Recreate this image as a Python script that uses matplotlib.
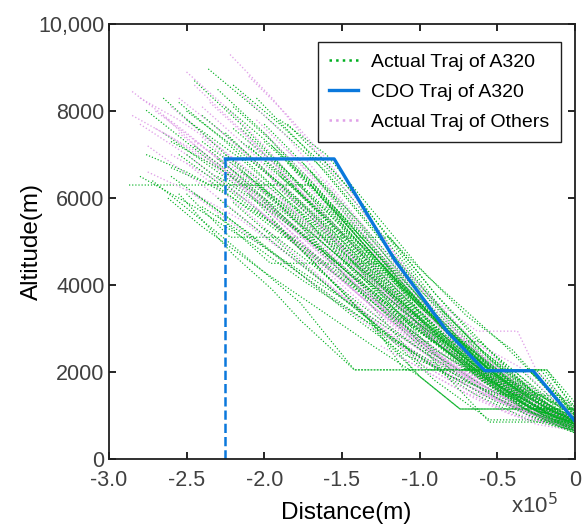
import matplotlib
matplotlib.use("Agg")
import matplotlib.pyplot as plt
from matplotlib.lines import Line2D

plt.rcParams['font.family'] = ['Liberation Sans', 'DejaVu Sans']

# distance in units of 1e5 m, altitude in m
a320_x = [
    [-2.36, -2.0, -1.6, -1.3, -1.0, -0.6, -0.2, 0],
    [-2.2, -1.9, -1.6, -1.25, -0.95, -0.6, -0.25, 0],
    [-1.9, -1.6, -1.3, -1.0, -0.7, -0.4, -0.15, 0],
    [-1.75, -1.5, -1.2, -0.9, -0.6, -0.3, 0],
    [-1.2, -0.95, -0.7, -0.45, -0.2, 0],
    [-2.05, -1.75, -1.45, -1.15, -0.85, -0.55, -0.25, 0],
    [-2.3, -2.0, -1.7, -1.4, -1.1, -0.8, -0.5, -0.2, 0],
    [-2.87, -1.68, -1.35, -1.0, -0.6, -0.25, 0],
    [-2.6, -2.35, -1.7, -1.4, -1.05, -0.7, -0.3, 0],
    [-2.5, -2.22, -1.19, -0.9, -0.55, -0.2, 0],
    [-2.3, -1.96, -1.24, -0.95, -0.6, -0.25, 0],
    [-2.72, -2.3, -1.77, -1.42, -0.18, 0],
    [-2.76, -2.4, -2.0, -1.6, -1.2, -0.8, -0.4, 0],
    [-2.65, -2.3, -1.95, -1.6, -1.25, -0.9, -0.55, -0.2, 0],
    [-2.5, -2.15, -1.8, -1.45, -1.1, -0.75, -0.4, 0],
    [-2.4, -2.1, -1.8, -1.5, -1.2, -0.9, -0.6, -0.3, 0],
    [-2.3, -2.0, -1.7, -1.4, -1.1, -0.8, -0.5, -0.2, 0],
    [-2.2, -1.9, -1.6, -1.3, -1.0, -0.7, -0.4, -0.1, 0],
    [-2.15, -1.85, -1.55, -1.25, -0.95, -0.65, -0.35, 0],
    [-2.1, -1.8, -1.5, -1.2, -0.9, -0.6, -0.3, 0],
    [-2.0, -1.7, -1.4, -1.1, -0.8, -0.5, -0.2, 0],
    [-1.95, -1.65, -1.35, -1.05, -0.75, -0.45, -0.15, 0],
    [-1.9, -1.6, -1.3, -1.0, -0.7, -0.4, -0.1, 0],
    [-1.85, -1.55, -1.25, -0.95, -0.65, -0.35, 0],
    [-1.8, -1.5, -1.2, -0.9, -0.6, -0.3, 0],
    [-1.7, -1.4, -1.1, -0.8, -0.5, -0.2, 0],
    [-1.6, -1.3, -1.0, -0.7, -0.4, -0.1, 0],
    [-1.5, -1.2, -0.9, -0.6, -0.3, 0],
    [-1.4, -1.1, -0.8, -0.5, -0.2, 0],
    [-2.5, -2.1, -1.7, -1.3, -1.1, -0.25, 0],
    [-2.05, -1.7, -1.35, -1.0, -0.95, -0.3, 0],
    [-2.25, -1.9, -1.55, -1.2, -0.8, -0.35, 0],
    [-1.9, -1.55, -1.2, -0.9, -0.65, -0.2, 0],
    [-2.35, -2.0, -1.65, -1.3, -1.0, -0.75, -0.3, 0],
    [-1.7, -1.4, -1.1, -0.85, -0.55, -0.22, 0],
    [-2.45, -2.1, -1.75, -1.4, -1.1, -0.85, -0.4, 0],
    [-1.6, -1.3, -1.0, -0.75, -0.6, -0.18, 0],
    [-2.55, -2.2, -1.8, -1.4, -1.0, -0.61, -0.3, 0],
    [-2.1, -1.7, -1.3, -1.0, -0.74, 0],
    [-1.95, -1.6, -1.2, -0.9, -0.55, -0.1, 0],
    [-2.3, -1.95, -1.6, -1.25, -0.95, -0.65, -0.3, 0],
    [-2.6, -2.25, -1.9, -1.55, -1.2, -0.85, -0.5, -0.15, 0],
    [-2.0, -1.7, -1.4, -1.1, -0.8, -0.5, -0.2, 0],
    [-1.8, -1.5, -1.2, -0.9, -0.6, -0.3, 0],
    [-1.3, -1.0, -0.74, 0],
    [-2.2, -1.85, -1.5, -1.15, -0.8, -0.5, -0.45, -0.1, 0],
    [-1.5, -1.2, -0.9, -0.6, -0.35, 0],
    [-1.4, -1.1, -0.85, -0.55, -0.05, 0],
    [-2.76, -2.5, -2.2, -1.9, -1.6, -1.3, -1.0, -0.7, -0.4, 0],
    [-2.55, -2.25, -1.95, -1.65, -1.35, -1.05, -0.75, -0.45, -0.15, 0],
    [-2.45, -2.15, -1.85, -1.55, -1.25, -0.95, -0.65, -0.35, 0],
    [-2.2, -1.95, -1.7, -1.45, -1.2, -0.9, -0.6, -0.3, 0],
    [-2.0, -1.75, -1.5, -1.25, -1.0, -0.7, -0.4, -0.15, 0],
    [-2.35, -2.05, -1.75, -1.45, -1.15, -0.85, -0.55, -0.25, 0],
    [-2.8, -2.45, -2.1, -1.75, -1.4, -1.05, -0.7, -0.35, 0],
    [-2.65, -2.4, -2.1, -1.8, -1.5, -1.2, -0.9, -0.6, -0.3, 0],
    [-2.15, -1.9, -1.65, -1.4, -1.15, -0.85, -0.55, -0.25, 0],
    [-1.85, -1.6, -1.35, -1.1, -0.85, -0.55, -0.25, 0],
    [-1.65, -1.4, -1.15, -0.9, -0.65, -0.35, -0.1, 0],
    [-2.4, -2.1, -1.8, -1.5, -1.2, -0.9, -0.6, -0.3, 0],
    [-0.9, -0.6, -0.3, 0],
    [-1.1, -0.8, -0.5, -0.25, 0],
    [-0.8, -0.55, -0.3, -0.1, 0],
    [-1.0, -0.7, -0.4, -0.15, 0],
    [-2.25, -1.95, -1.65, -1.35, -1.05, -0.75, -0.45, -0.15, 0],
    [-2.05, -1.75, -1.45, -1.15, -0.85, -0.55, -0.25, 0],
    [-1.95, -1.7, -1.45, -1.2, -0.95, -0.7, -0.45, -0.2, 0],
    [-2.4, -2.1, -1.8, -1.5, -1.2, -0.9, -0.6, -0.3, 0],
    [-2.6, -2.3, -2.0, -1.7, -1.4, -1.1, -0.8, -0.5, -0.2, 0],
    [-1.8, -1.55, -1.3, -1.05, -0.8, -0.55, -0.3, 0],
    [-2.15, -1.85, -1.55, -1.25, -0.95, -0.65, -0.35, 0],
    [-1.7, -1.45, -1.2, -0.95, -0.7, -0.45, -0.2, 0],
    [-2.3, -2.0, -1.7, -1.4, -1.1, -0.8, -0.55, -0.3, 0],
    [-2.0, -1.75, -1.5, -1.25, -1.0, -0.75, -0.5, -0.25, 0],
    [-1.55, -1.3, -1.05, -0.8, -0.55, -0.3, 0],
    [-2.5, -2.2, -1.9, -1.6, -1.3, -1.0, -0.7, -0.45, -0.2, 0],
    [-1.9, -1.65, -1.4, -1.15, -0.9, -0.65, -0.4, -0.15, 0],
    [-2.1, -1.85, -1.6, -1.35, -1.1, -0.85, -0.6, -0.3, 0],
    [-1.45, -1.2, -0.95, -0.7, -0.45, -0.2, 0],
    [-2.45, -2.15, -1.85, -1.55, -1.25, -0.95, -0.65, -0.35, 0],
    [-1.65, -1.4, -1.15, -0.9, -0.65, -0.4, -0.15, 0],
    [-2.25, -1.95, -1.65, -1.35, -1.05, -0.75, -0.5, -0.25, 0],
    [-0.7, -0.45, -0.2, 0],
    [-0.6, -0.35, -0.1, 0],
    [-2.0, -1.7, -1.4, -1.1, -0.8, -0.55, -0.3, -0.1, 0],
    [-2.62, -2.41, -2.0, -1.64, -1.3, -1.0, -0.74, 0],
    [-2.55, -2.2, -1.95, -1.77, -1.42, -0.3, 0],
]
a320_y = [
    [8970, 7900, 6600, 5300, 3900, 2500, 1400, 1000],
    [8600, 7700, 6700, 5200, 3800, 2500, 1500, 1050],
    [7800, 7000, 5700, 4400, 3300, 2500, 1500, 1100],
    [6800, 5900, 4600, 3400, 2400, 1600, 1100],
    [5100, 4200, 3400, 2600, 1700, 1200],
    [8300, 7200, 5900, 4600, 3400, 2300, 1500, 1000],
    [8500, 7500, 6400, 5200, 4000, 2900, 2000, 1300, 900],
    [6300, 6300, 4900, 3500, 2200, 1300, 850],
    [6700, 6300, 6300, 5000, 3700, 2500, 1400, 800],
    [6100, 5100, 5100, 3800, 2500, 1300, 900],
    [5600, 4500, 4500, 3400, 2200, 1200, 800],
    [6400, 5200, 3600, 2050, 2050, 1100],
    [8020, 7000, 5900, 4700, 3500, 2400, 1400, 750],
    [7500, 6600, 5700, 4700, 3700, 2700, 1800, 1100, 750],
    [7800, 6900, 5800, 4700, 3500, 2500, 1600, 800],
    [7300, 6500, 5600, 4700, 3800, 2900, 2050, 1300, 850],
    [6900, 6100, 5200, 4300, 3400, 2500, 1700, 1000, 700],
    [7600, 6700, 5700, 4600, 3500, 2500, 1700, 1000, 800],
    [6600, 5800, 4900, 4000, 3100, 2300, 1500, 800],
    [7200, 6200, 5100, 4000, 3000, 2100, 1400, 900],
    [6800, 5900, 4900, 3900, 2900, 2050, 1300, 950],
    [7200, 6200, 5000, 3800, 2800, 1900, 1200, 850],
    [6500, 5500, 4500, 3500, 2600, 1800, 1100, 850],
    [6800, 5700, 4500, 3400, 2400, 1600, 900],
    [6200, 5200, 4200, 3200, 2300, 1500, 800],
    [6300, 5100, 3900, 2800, 1900, 1200, 850],
    [5800, 4600, 3400, 2400, 1600, 1000, 800],
    [5300, 4100, 3000, 2100, 1400, 900],
    [4800, 3700, 2700, 1900, 1200, 900],
    [7000, 5900, 4600, 3100, 2050, 2050, 1000],
    [6400, 5100, 3700, 2200, 2050, 2050, 1100],
    [7500, 6300, 5000, 3600, 2050, 2050, 900],
    [6600, 5300, 4000, 2900, 2050, 2050, 1200],
    [7100, 6000, 4800, 3600, 2600, 2050, 2050, 900],
    [6600, 5300, 4000, 3000, 2050, 2050, 1000],
    [6100, 5200, 4200, 3200, 2400, 2050, 2050, 800],
    [5900, 4700, 3400, 2500, 2050, 2050, 1300],
    [7000, 6100, 5000, 3900, 2700, 2700, 1600, 800],
    [6100, 4600, 3100, 1900, 1150, 1150],
    [5500, 4200, 2800, 1800, 900, 900, 700],
    [6000, 5000, 4000, 3000, 2200, 1500, 900, 650],
    [6500, 5600, 4600, 3700, 2800, 2000, 1300, 800, 650],
    [5300, 4500, 3600, 2800, 2000, 1400, 900, 700],
    [5800, 4600, 3400, 2400, 1700, 1200, 800],
    [3000, 1900, 1150, 1150],
    [5900, 4800, 3700, 2700, 1900, 1500, 1470, 1470, 1050],
    [4900, 3800, 2700, 1800, 1250, 800],
    [4300, 3100, 2000, 850, 850, 700],
    [7000, 6600, 6000, 5300, 4500, 3700, 2900, 2200, 1500, 800],
    [8200, 7300, 6300, 5200, 4100, 3100, 2200, 1500, 1000, 800],
    [8700, 7700, 6600, 5400, 4200, 3100, 2100, 1300, 850],
    [8100, 7300, 6300, 5300, 4300, 3200, 2200, 1400, 950],
    [7700, 6800, 5800, 4800, 3700, 2600, 1700, 1100, 950],
    [6400, 5600, 4800, 4000, 3200, 2400, 1700, 1100, 700],
    [6500, 5800, 5000, 4100, 3300, 2500, 1800, 1200, 650],
    [8300, 7500, 6500, 5500, 4400, 3400, 2500, 1900, 1300, 900],
    [7300, 6600, 5700, 4800, 3900, 2900, 2050, 1300, 800],
    [7700, 6800, 5800, 4600, 3400, 2300, 1400, 950],
    [7000, 6000, 4900, 3800, 2800, 1900, 1200, 950],
    [5800, 5100, 4400, 3700, 3000, 2300, 1600, 1000, 600],
    [2700, 1900, 1100, 700],
    [3300, 2400, 1600, 1000, 600],
    [2600, 1900, 1300, 900, 750],
    [3100, 2300, 1500, 1000, 850],
    [7000, 6200, 5300, 4300, 3400, 2500, 1700, 1000, 750],
    [6300, 5400, 4400, 3500, 2700, 1900, 1200, 800],
    [6900, 6100, 5200, 4300, 3400, 2600, 1900, 1200, 900],
    [7900, 7000, 6000, 5000, 3900, 2900, 2000, 1200, 800],
    [7300, 6700, 6000, 5200, 4300, 3400, 2500, 1700, 1000, 700],
    [6000, 5200, 4300, 3400, 2500, 1800, 1200, 750],
    [7600, 6600, 5500, 4500, 3400, 2400, 1600, 850],
    [5400, 4600, 3800, 3000, 2300, 1700, 1100, 800],
    [6500, 5800, 5000, 4100, 3200, 2400, 1800, 1200, 650],
    [7300, 6500, 5600, 4600, 3600, 2700, 1900, 1200, 900],
    [5800, 4900, 3900, 2900, 2050, 1400, 850],
    [8000, 7200, 6300, 5300, 4200, 3200, 2300, 1600, 1000, 750],
    [6200, 5400, 4600, 3700, 2900, 2100, 1500, 1000, 800],
    [6900, 6200, 5400, 4500, 3600, 2800, 2050, 1300, 900],
    [4600, 3700, 2900, 2200, 1600, 1100, 800],
    [7200, 6400, 5500, 4600, 3700, 2800, 2000, 1300, 700],
    [6400, 5500, 4500, 3500, 2600, 1900, 1200, 950],
    [8100, 7200, 6100, 5000, 3900, 2800, 2050, 1300, 850],
    [2200, 1500, 1000, 650],
    [1800, 1200, 800, 600],
    [5900, 5000, 4100, 3200, 2400, 1700, 1100, 750, 650],
    [6000, 5370, 4300, 3430, 2600, 1900, 1150, 1150],
    [6100, 4700, 3900, 3200, 2050, 2050, 1000],
]

others_x = [
    [-2.85, -2.5, -2.1, -1.7, -1.3, -0.9, -0.5, -0.1, 0],
    [-2.22, -1.95, -1.65, -1.35, -1.05, -0.7, -0.35, 0],
    [-2.6, -2.3, -1.95, -1.6, -1.25, -0.9, -0.55, -0.2, 0],
    [-2.75, -2.4, -2.05, -1.7, -1.35, -1.0, -0.65, -0.3, 0],
    [-1.8, -1.4, -1.0, -0.63, -0.37, -0.25, 0],
    [-2.4, -2.05, -1.7, -1.35, -1.0, -0.65, -0.3, 0],
    [-2.0, -1.7, -1.4, -1.1, -0.8, -0.5, -0.2, 0],
    [-2.5, -2.15, -1.8, -1.45, -1.1, -0.75, -0.4, 0],
    [-2.2, -1.85, -1.5, -1.25, -1.0, -0.7, -0.4, -0.1, 0],
    [-2.65, -2.35, -2.0, -1.65, -1.3, -0.95, -0.6, -0.25, 0],
    [-1.85, -1.55, -1.25, -0.95, -0.65, -0.35, -0.1, 0],
    [-2.3, -2.0, -1.65, -1.3, -0.95, -0.6, -0.3, 0],
    [-2.1, -1.8, -1.5, -1.2, -0.9, -0.6, -0.3, 0],
    [-1.95, -1.65, -1.35, -1.05, -0.75, -0.45, -0.15, 0],
    [-2.45, -2.1, -1.75, -1.4, -1.05, -0.7, -0.35, 0],
    [-1.6, -1.3, -1.0, -0.7, -0.4, -0.1, 0],
    [-2.55, -2.2, -1.85, -1.5, -1.15, -0.8, -0.45, -0.15, 0],
    [-2.0, -1.7, -1.4, -1.1, -0.8, -0.5, -0.15, 0],
    [-2.35, -2.05, -1.75, -1.45, -1.15, -0.85, -0.55, -0.25, 0],
    [-2.75, -2.45, -2.15, -1.85, -1.55, -1.25, -0.95, -0.65, -0.35, 0],
    [-2.7, -2.4, -2.1, -1.8, -1.5, -1.2, -0.9, -0.6, -0.3, 0],
    [-1.7, -1.45, -1.2, -0.95, -0.7, -0.45, -0.2, 0],
    [-1.4, -1.15, -0.9, -0.65, -0.4, -0.15, 0],
    [-2.15, -1.85, -1.55, -1.25, -0.95, -0.65, -0.35, 0],
    [-2.5, -2.2, -1.9, -1.6, -1.3, -1.0, -0.7, -0.4, 0],
    [-1.2, -0.95, -0.7, -0.45, -0.2, 0],
    [-2.8, -2.5, -2.2, -1.9, -1.6, -1.3, -1.0, -0.7, -0.4, 0],
    [-1.9, -1.6, -1.3, -1.0, -0.7, -0.4, -0.1, 0],
    [-2.05, -1.8, -1.55, -1.3, -1.05, -0.8, -0.5, -0.2, 0],
    [-1.1, -0.85, -0.6, -0.35, -0.1, 0],
    [-2.8, -2.55, -2.3, -2.05, -1.8, -1.5, -1.2, -0.9, -0.6, -0.3, 0],
    [-2.7, -2.45, -2.2, -1.95, -1.7, -1.4, -1.1, -0.8, -0.5, -0.2, 0],
    [-2.55, -2.3, -2.05, -1.8, -1.55, -1.25, -0.95, -0.65, -0.35, 0],
    [-2.4, -2.15, -1.9, -1.65, -1.4, -1.1, -0.8, -0.5, -0.2, 0],
    [-2.6, -2.35, -2.1, -1.85, -1.6, -1.3, -1.0, -0.7, -0.4, 0],
    [-2.3, -2.05, -1.8, -1.55, -1.3, -1.0, -0.7, -0.45, -0.2, 0],
    [-2.45, -2.2, -1.95, -1.7, -1.45, -1.15, -0.85, -0.55, -0.25, 0],
    [-2.1, -1.85, -1.6, -1.35, -1.1, -0.8, -0.5, -0.25, 0],
    [-1.5, -1.25, -1.0, -0.75, -0.5, -0.25, 0],
    [-1.3, -1.05, -0.8, -0.55, -0.3, -0.1, 0],
    [-1.25, -1.0, -0.75, -0.5, -0.25, 0],
    [-1.15, -0.9, -0.65, -0.4, -0.15, 0],
    [-0.9, -0.65, -0.45, -0.25, 0],
    [-1.6, -1.35, -1.1, -0.85, -0.6, -0.35, -0.1, 0],
    [-2.0, -1.75, -1.5, -1.25, -1.0, -0.75, -0.5, -0.25, 0],
    [-0.8, -0.55, -0.35, -0.15, 0],
    [-2.85, -2.6, -2.35, -2.1, -1.85, -1.55, -1.25, -0.95, -0.65, -0.35, 0],
    [-2.5, -2.25, -2.0, -1.75, -1.5, -1.2, -0.9, -0.6, -0.3, 0],
]
others_y = [
    [8450, 7500, 6300, 5000, 3800, 2700, 1700, 1000, 850],
    [9300, 8300, 7000, 5600, 4200, 2900, 1800, 1000],
    [8100, 7200, 6100, 4900, 3800, 2700, 1800, 1100, 850],
    [7200, 6300, 5300, 4300, 3300, 2400, 1600, 1100, 750],
    [6600, 5000, 3900, 2940, 2940, 2050, 1100],
    [7400, 6300, 5100, 3900, 2800, 1900, 1200, 750],
    [7500, 6400, 5100, 3900, 2800, 1900, 1200, 900],
    [6800, 5800, 4700, 3600, 2600, 1800, 1200, 700],
    [6300, 5100, 3900, 3000, 2200, 1600, 1200, 800, 700],
    [7900, 6900, 5800, 4600, 3500, 2500, 1700, 1000, 650],
    [7100, 6000, 4700, 3500, 2500, 1700, 1000, 850],
    [6800, 5800, 4600, 3500, 2500, 1700, 1100, 700],
    [7300, 6200, 5000, 3900, 2900, 2000, 1300, 800],
    [6400, 5400, 4300, 3300, 2400, 1600, 1000, 750],
    [8600, 7400, 6100, 4800, 3600, 2500, 1600, 900],
    [6400, 5100, 3800, 2700, 1800, 1100, 900],
    [7500, 6500, 5400, 4300, 3200, 2300, 1500, 950, 800],
    [5900, 4900, 3900, 3000, 2200, 1500, 900, 700],
    [8200, 7200, 6100, 5000, 3900, 2900, 2000, 1200, 850],
    [6600, 6100, 5500, 4700, 3900, 3100, 2400, 1800, 1200, 700],
    [8000, 7200, 6300, 5300, 4300, 3300, 2400, 1700, 1100, 700],
    [5600, 4700, 3800, 3000, 2300, 1700, 1100, 800],
    [5100, 4200, 3300, 2500, 1800, 1200, 900],
    [8400, 7400, 6100, 4800, 3500, 2500, 1600, 900],
    [6200, 5400, 4600, 3800, 3000, 2300, 1700, 1200, 700],
    [3500, 2800, 2200, 1600, 1100, 800],
    [7700, 7000, 6200, 5300, 4400, 3500, 2700, 2000, 1400, 750],
    [6000, 5000, 4000, 3100, 2300, 1600, 1000, 800],
    [7800, 6900, 5900, 4900, 3800, 2700, 1800, 1200, 950],
    [2600, 2000, 1500, 1100, 800, 700],
    [8300, 7800, 7200, 6500, 5700, 4700, 3700, 2700, 1800, 1100, 700],
    [7600, 7100, 6500, 5800, 5000, 4000, 3000, 2100, 1400, 900, 700],
    [8300, 7600, 6800, 5900, 5000, 3900, 2900, 2000, 1300, 800],
    [8100, 7300, 6400, 5500, 4500, 3400, 2400, 1600, 1000, 800],
    [7000, 6500, 5900, 5200, 4400, 3500, 2600, 1800, 1200, 650],
    [7600, 6800, 6000, 5100, 4200, 3100, 2100, 1500, 1000, 750],
    [7300, 6700, 6000, 5200, 4300, 3300, 2300, 1500, 900, 700],
    [8800, 7900, 6900, 5700, 4400, 3100, 2000, 1300, 900],
    [4300, 3500, 2700, 2000, 1400, 1000, 750],
    [3700, 2900, 2200, 1600, 1100, 800, 700],
    [2600, 2100, 1600, 1200, 900, 700],
    [2400, 1900, 1400, 1000, 800, 700],
    [2000, 1500, 1100, 800, 650],
    [4800, 3900, 3000, 2300, 1700, 1200, 850, 750],
    [5600, 4800, 4000, 3200, 2500, 1900, 1400, 1000, 750],
    [2900, 2500, 2100, 1400, 1000],
    [7900, 7400, 6800, 6100, 5300, 4300, 3300, 2400, 1700, 1100, 650],
    [8900, 8100, 7200, 6200, 5200, 4000, 2900, 2000, 1300, 850],
]

cdo_x = [-2.25, -2.25, -1.55, -1.16, -0.82, -0.58, -0.27, 0.0]
cdo_y = [0, 6900, 6900, 4575, 2920, 2030, 2030, 870]

xticks = [-3.0, -2.5, -2.0, -1.5, -1.0, -0.5, 0.0]
xtick_labels = ['-3.0', '-2.5', '-2.0', '-1.5', '-1.0', '-0.5', '0']
yticks = [0, 2000, 4000, 6000, 8000, 10000]
ytick_labels = ['0', '2000', '4000', '6000', '8000', '10,000']

green = '#00b020'
pink = '#e0a0e8'
blue = '#0a78dc'

fig = plt.figure(figsize=(5.82, 5.24), dpi=100)
ax = fig.add_axes([0.187, 0.124, 0.801, 0.830])

# draw the two groups interleaved so neither fully hides the other
n = max(len(a320_x), len(others_x))
for i in range(n):
    if i < len(a320_x):
        ax.plot([v * 1e5 for v in a320_x[i]], a320_y[i], ':', color=green, lw=0.85)
    if i < len(others_x):
        ax.plot([v * 1e5 for v in others_x[i]], others_y[i], ':', color=pink, lw=0.95)

# dashed drop line then the CDO profile
ax.plot([cdo_x[0] * 1e5, cdo_x[1] * 1e5], cdo_y[:2], '--', color=blue, lw=1.8)
ax.plot([v * 1e5 for v in cdo_x[1:]], cdo_y[1:], '-', color=blue, lw=2.4)

ax.set_xlim(-3e5, 0)
ax.set_ylim(0, 10000)
ax.set_xticks([v * 1e5 for v in xticks])
ax.set_xticklabels(xtick_labels)
ax.set_yticks(yticks)
ax.set_yticklabels(ytick_labels)
ax.tick_params(direction='in', top=True, right=True, length=5, width=1.2,
               labelsize=15.5, labelcolor='#404040')
ax.tick_params(axis='x', pad=8)
ax.tick_params(axis='y', pad=3)
for s in ax.spines.values():
    s.set_linewidth(1.3)
    s.set_color('#202020')

ax.set_xlabel('Distance(m)', fontsize=17.5)
ax.set_ylabel('Altitude(m)', fontsize=17.5)
ax.xaxis.label.set_va('center')
ax.yaxis.label.set_va('center')
ax.xaxis.set_label_coords(0.509, -0.125)
ax.yaxis.set_label_coords(-0.165, 0.5)
ax.text(0.963, -0.106, r'x10$^5$', transform=ax.transAxes, fontsize=16,
        color='#404040', ha='right', va='center')

handles = [
    Line2D([], [], ls=':', color=green, lw=1.8),
    Line2D([], [], ls='-', color=blue, lw=2.4),
    Line2D([], [], ls=':', color=pink, lw=1.8),
]
leg = ax.legend(handles, ['Actual Traj of A320', 'CDO Traj of A320', 'Actual Traj of Others'],
                loc='upper right', bbox_to_anchor=(0.970, 0.959), borderaxespad=0,
                fontsize=14, fancybox=False, framealpha=1, edgecolor='#202020',
                handlelength=1.5, handletextpad=0.65, borderpad=0.6, labelspacing=0.62)
leg.get_frame().set_linewidth(1.0)

fig.savefig('out.png', dpi=100)
